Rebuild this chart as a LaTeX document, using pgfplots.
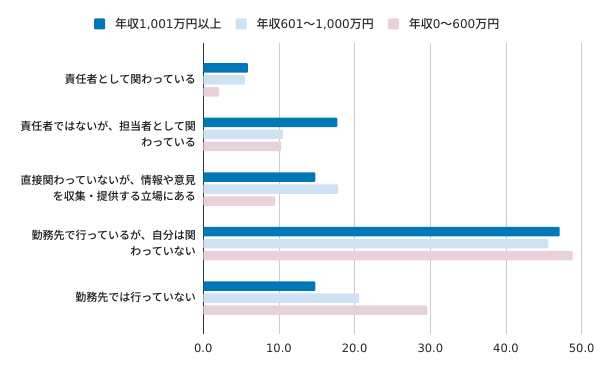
\documentclass[border=0pt]{standalone}
\usepackage{pgfplots}
\pgfplotsset{compat=1.18}
\usepackage{fontspec}
\setmainfont{Noto Sans CJK JP}[UprightFont={* Medium}]
\newfontfamily\dv{DejaVu Sans}
\definecolor{cdark}{HTML}{0077B6}
\definecolor{clight}{HTML}{CFE2F3}
\definecolor{cpink}{HTML}{E8D1DB}
\definecolor{cgrid}{HTML}{CCCCCC}
\definecolor{caxis}{HTML}{333333}
\begin{document}
\begin{tikzpicture}
\path[use as bounding box] (-203.3bp,-37bp) rectangle (396.7bp,334bp);
\begin{axis}[
  at={(0,0)}, anchor=south west,
  scale only axis, width=378.4bp, height=291bp,
  xbar, bar width=9.5bp,
  xmin=0, xmax=50,
  ymin=-0.665, ymax=4.665,
  y dir=reverse,
  axis lines*=left,
  x axis line style={draw=none},
  y axis line style={draw=caxis, line width=0.9bp},
  xtick={0,10,20,30,40,50},
  ytick={0,1,2,3,4},
  major tick length=0pt,
  xmajorgrids, grid style={cgrid, line width=0.8bp},
  /pgf/number format/assume math mode=true,
  xticklabel={\pgfmathprintnumber[fixed,fixed zerofill,precision=1]{\tick}},
  xticklabel style={font=\fontsize{11.5bp}{13bp}\selectfont\dv, color=black!85, anchor=base, yshift=-18bp},
  yticklabels={{責任者として関わっている},{責任者ではないが、担当者として関\\わっている},{直接関わっていないが、情報や意見\\を収集・提供する立場にある},{勤務先で行っているが、自分は関\\わっていない},{勤務先では行っていない}},
  yticklabel style={font=\fontsize{11bp}{15.7bp}\selectfont, align=right, anchor=east, xshift=-4bp, color=black!90},
  legend columns=3,
  legend style={at={(-0.2889,1.0653)}, anchor=west, draw=none, inner sep=0pt, fill=none,
    nodes={inner sep=0pt, font=\fontsize{12bp}{14bp}\selectfont, color=black!85},
    /tikz/every odd column/.append style={column sep=10bp},
    /tikz/every even column/.append style={column sep=14bp}},
  legend image code/.code={\fill[#1] (0bp,-5.5bp) rectangle (11bp,5.5bp);},
]
\addplot[fill=cdark, draw=none, bar shift=11.5bp, rounded corners=1bp] coordinates {(5.9,0) (17.7,1) (14.8,2) (47.1,3) (14.8,4)};
\addplot[fill=clight, draw=none, bar shift=-0.5bp, rounded corners=1bp] coordinates {(5.5,0) (10.5,1) (17.8,2) (45.6,3) (20.6,4)};
\addplot[fill=cpink, draw=none, bar shift=-12.5bp, rounded corners=1bp] coordinates {(2.1,0) (10.3,1) (9.5,2) (48.8,3) (29.6,4)};
\legend{{年収{\dv 1,001}万円以上},{年収{\dv 601}〜{\dv 1,000}万円},{年収{\dv 0}〜{\dv 600}万円}}
\end{axis}
\end{tikzpicture}
\end{document}
